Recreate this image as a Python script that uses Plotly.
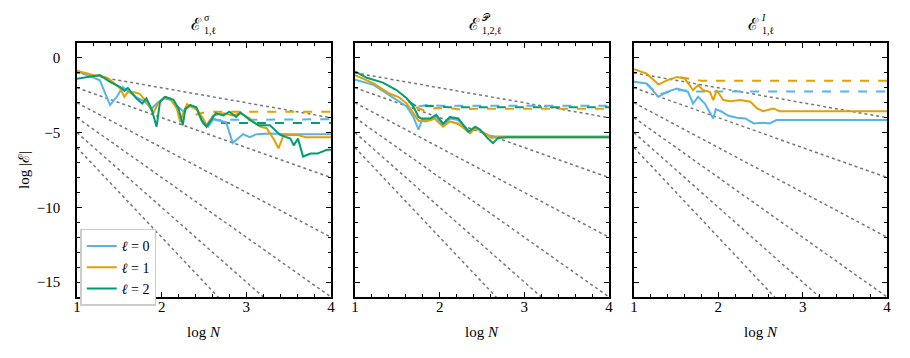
import plotly.graph_objects as go

# colours for l = 0, 1, 2
c0, c1, c2 = "#56B4E9", "#E69F00", "#009E73"

# reference slopes: log|E| = -k log N
slopes = [1, 2, 3, 4, 5, 6]

# panel 1: E^sigma_{1,l}
s_x0 = [1.0, 1.1, 1.27, 1.39, 1.47, 1.54, 1.62, 1.72, 1.8, 1.88, 1.95, 2.02, 2.1, 2.18, 2.26, 2.34, 2.42, 2.49, 2.55, 2.61, 2.68, 2.76, 2.84, 2.96, 3.04, 3.12, 3.28, 3.5, 3.8, 4.0]
s_y0 = [-0.9, -1.1, -1.5, -3.15, -2.6, -1.95, -2.3, -2.7, -2.9, -3.4, -3.0, -2.7, -2.8, -3.2, -3.6, -3.15, -3.5, -4.4, -4.6, -4.1, -4.2, -4.3, -5.7, -5.1, -5.3, -5.1, -5.05, -5.1, -5.1, -5.1]
s_x1 = [1.0, 1.2, 1.35, 1.42, 1.51, 1.56, 1.6, 1.68, 1.74, 1.82, 1.9, 1.96, 2.04, 2.1, 2.18, 2.22, 2.26, 2.3, 2.36, 2.41, 2.49, 2.53, 2.61, 2.73, 2.84, 2.93, 3.04, 3.16, 3.24, 3.32, 3.38, 3.44, 3.6, 3.7, 4.0]
s_y1 = [-0.85, -1.15, -1.3, -1.6, -2.05, -2.6, -2.3, -2.3, -2.4, -2.9, -3.7, -3.0, -2.6, -2.7, -3.4, -4.3, -3.6, -3.1, -3.3, -3.4, -4.05, -4.5, -3.85, -3.7, -3.85, -3.7, -4.05, -4.6, -4.7, -5.4, -6.05, -5.15, -5.15, -5.3, -5.3]
s_x2 = [1.0, 1.27, 1.39, 1.51, 1.56, 1.6, 1.7, 1.77, 1.82, 1.88, 1.94, 1.98, 2.04, 2.14, 2.2, 2.25, 2.28, 2.34, 2.41, 2.47, 2.53, 2.6, 2.64, 2.73, 2.8, 2.88, 2.93, 3.04, 3.14, 3.28, 3.4, 3.52, 3.56, 3.61, 3.67, 3.76, 3.84, 3.95, 4.0]
s_y2 = [-1.4, -1.15, -1.6, -1.95, -2.2, -2.0, -2.7, -3.05, -2.7, -3.4, -4.6, -2.95, -2.6, -2.8, -3.4, -4.5, -3.4, -3.15, -3.3, -4.15, -4.6, -4.05, -3.7, -3.85, -3.6, -3.95, -3.65, -4.15, -4.5, -4.5, -5.15, -5.4, -5.85, -5.4, -6.6, -6.4, -6.4, -6.15, -6.15]
s_dx0, s_dy0 = [2.6, 2.66, 4.0], [-4.05, -4.15, -4.1]
s_dx1, s_dy1 = [2.4, 2.5, 2.6, 4.0], [-3.8, -3.65, -3.6, -3.6]
s_dx2, s_dy2 = [2.7, 4.0], [-4.35, -4.35]

# panel 2: E^P_{1,2,l}
p_x0 = [1.0, 1.22, 1.41, 1.61, 1.69, 1.75, 1.79, 1.89, 1.96, 2.04, 2.12, 2.22, 2.36, 2.42, 2.55, 2.65, 3.0, 4.0]
p_y0 = [-1.45, -1.8, -2.5, -3.25, -3.95, -4.8, -4.15, -4.15, -3.95, -4.5, -4.05, -4.15, -4.95, -4.65, -5.15, -5.25, -5.25, -5.25]
p_x1 = [1.0, 1.22, 1.41, 1.51, 1.61, 1.69, 1.75, 1.84, 1.94, 2.04, 2.12, 2.22, 2.36, 2.42, 2.55, 2.61, 2.7, 3.0, 4.0]
p_y1 = [-1.15, -1.7, -2.4, -2.6, -3.05, -3.7, -4.2, -4.25, -4.05, -4.6, -4.25, -4.4, -5.05, -4.7, -5.1, -5.35, -5.3, -5.3, -5.3]
p_x2 = [1.0, 1.14, 1.33, 1.49, 1.61, 1.69, 1.75, 1.78, 1.89, 1.96, 2.04, 2.12, 2.22, 2.34, 2.42, 2.48, 2.57, 2.63, 2.69, 2.79, 3.0, 4.0]
p_y2 = [-0.9, -1.33, -1.65, -2.15, -2.7, -3.25, -3.95, -4.05, -4.05, -3.8, -4.4, -3.95, -4.05, -4.95, -4.6, -4.8, -5.4, -5.7, -5.35, -5.3, -5.3, -5.3]
p_dx0, p_dy0 = [1.75, 1.85, 2.0, 4.0], [-3.25, -3.15, -3.2, -3.2]
p_dx1, p_dy1 = [1.72, 1.81, 1.95, 2.15, 2.24, 2.4, 4.0], [-3.3, -3.5, -3.35, -3.38, -3.45, -3.4, -3.4]
p_dx2, p_dy2 = [1.63, 1.73, 1.9, 2.1, 4.0], [-2.9, -3.25, -3.2, -3.3, -3.3]

# panel 3: E^I_{1,l}
i_x0 = [1.0, 1.15, 1.29, 1.39, 1.51, 1.64, 1.7, 1.76, 1.84, 1.94, 1.97, 2.04, 2.12, 2.22, 2.32, 2.42, 2.53, 2.61, 2.69, 3.0, 4.0]
i_y0 = [-1.6, -1.71, -2.6, -2.27, -2.05, -2.27, -3.05, -2.6, -3.05, -4.05, -3.42, -3.6, -3.87, -4.0, -4.05, -4.38, -4.34, -4.38, -4.16, -4.16, -4.16]
i_x1 = [1.0, 1.15, 1.29, 1.39, 1.51, 1.6, 1.66, 1.7, 1.76, 1.82, 1.9, 1.94, 1.98, 2.06, 2.14, 2.26, 2.38, 2.46, 2.53, 2.65, 2.73, 3.0, 4.0]
i_y1 = [-0.75, -1.05, -1.78, -1.5, -1.27, -1.38, -1.82, -2.16, -1.82, -2.16, -2.27, -2.82, -2.16, -2.82, -2.89, -2.82, -2.93, -3.38, -3.56, -3.38, -3.56, -3.56, -3.56]
i_dx0, i_dy0 = [1.15, 1.29, 1.4, 1.55, 1.7, 1.8, 4.0], [-1.75, -2.45, -2.3, -2.15, -2.25, -2.25, -2.25]
i_dx1, i_dy1 = [1.55, 1.66, 1.8, 4.0], [-1.3, -1.4, -1.52, -1.52]

FONT = "Liberation Serif"
# page body keeps its default 8px margin, so the figure is 16px smaller than the window
W, H = 894, 342
L, R, T, B = 69, 15, 35, 53
pw = W - L - R
doms = [(0, 254), (278, 532), (557, 810)]

fig = go.Figure()

panels = [
    ("", [(s_x0, s_y0, c0), (s_x1, s_y1, c1), (s_x2, s_y2, c2)],
     [(s_dx0, s_dy0, c0), (s_dx1, s_dy1, c1), (s_dx2, s_dy2, c2)]),
    ("2", [(p_x0, p_y0, c0), (p_x1, p_y1, c1), (p_x2, p_y2, c2)],
     [(p_dx0, p_dy0, c0), (p_dx1, p_dy1, c1), (p_dx2, p_dy2, c2)]),
    ("3", [(i_x0, i_y0, c0), (i_x1, i_y1, c1)],
     [(i_dx0, i_dy0, c0), (i_dx1, i_dy1, c1)]),
]

for pi, (ax, solid, dashed) in enumerate(panels):
    xa, ya = "x" + ax, "y" + ax
    for k in slopes:
        fig.add_trace(go.Scatter(x=[1, 4], y=[-k, -4 * k], mode="lines", xaxis=xa, yaxis=ya,
                                 line=dict(color="#777777", width=1.5, dash="dot"),
                                 showlegend=False, hoverinfo="skip"))
    for (x, y, c) in dashed:
        fig.add_trace(go.Scatter(x=x, y=y, mode="lines", xaxis=xa, yaxis=ya,
                                 line=dict(color=c, width=2, dash="dash"), showlegend=False))
    for li, (x, y, c) in enumerate(solid):
        fig.add_trace(go.Scatter(x=x, y=y, mode="lines", xaxis=xa, yaxis=ya,
                                 line=dict(color=c, width=2), name=f"<i>ℓ</i> = {li}",
                                 showlegend=(pi == 0)))

axis_common = dict(showline=True, linecolor="black", linewidth=1.5, mirror="ticks",
                   ticks="inside", ticklen=5, tickwidth=1.2, tickcolor="black",
                   showgrid=False, zeroline=False,
                   tickfont=dict(family=FONT, size=15, color="black"))

layout = dict(width=W, height=H, margin=dict(l=L, r=R, t=T, b=B),
              plot_bgcolor="white", paper_bgcolor="white",
              font=dict(family=FONT, size=15, color="black"),
              legend=dict(x=0.004, y=0.268, xanchor="left", yanchor="top",
                          bgcolor="white", bordercolor="#cccccc", borderwidth=1.5,
                          font=dict(family=FONT, size=14), tracegroupgap=0,
                          itemwidth=30))

for pi, ax in enumerate(["", "2", "3"]):
    d0, d1 = doms[pi]
    layout["xaxis" + ax] = dict(axis_common, domain=[d0 / pw, d1 / pw], range=[1, 4],
                                tickvals=[1, 2, 3, 4], ticktext=["1", "2", "3", "4"],
                                minor=dict(dtick=0.2, tick0=1, ticks="inside", ticklen=3,
                                           tickcolor="black", tickwidth=1),
                                ticklabelstandoff=-5, anchor="y" + ax)
    layout["yaxis" + ax] = dict(axis_common, range=[-16, 1], tickvals=[0, -5, -10, -15],
                                minor=dict(dtick=1, tick0=0, ticks="inside", ticklen=3,
                                           tickcolor="black", tickwidth=1),
                                showticklabels=(pi == 0), ticklabelstandoff=12,
                                anchor="x" + ax)

fig.update_layout(**layout)

titles = [("σ", "1,ℓ"), ("𝒫", "1,2,ℓ"), ("<i>I</i>", "1,ℓ")]
TFONT = "DejaVu Serif"
ann = []
for pi, (sup, sub) in enumerate(titles):
    d0, d1 = doms[pi]
    cx = (d0 + d1) / 2 / pw
    ann.append(dict(text="ℰ", x=cx, y=1, xref="paper", yref="paper", xanchor="right",
                    yanchor="bottom", yshift=7, xshift=0, showarrow=False,
                    font=dict(family=TFONT, size=17)))
    ann.append(dict(text=sup + "<br>" + sub, x=cx, y=1, xref="paper", yref="paper",
                    xanchor="left", yanchor="bottom", yshift=5, xshift=-2, showarrow=False,
                    align="left", font=dict(family=FONT, size=10)))
    ann.append(dict(text="log <i>N</i>", x=cx, y=0, xref="paper", yref="paper",
                    xanchor="center", yanchor="top", yshift=-25, showarrow=False,
                    font=dict(family=FONT, size=15)))
ann.append(dict(text="log |ℰ|", x=0, y=(289 - 162) / 254, xref="paper", yref="paper",
                xanchor="center", yanchor="middle", xshift=-53, textangle=-90,
                showarrow=False, font=dict(family=FONT, size=15)))
fig.update_layout(annotations=ann)

fig.write_html("out.html")
